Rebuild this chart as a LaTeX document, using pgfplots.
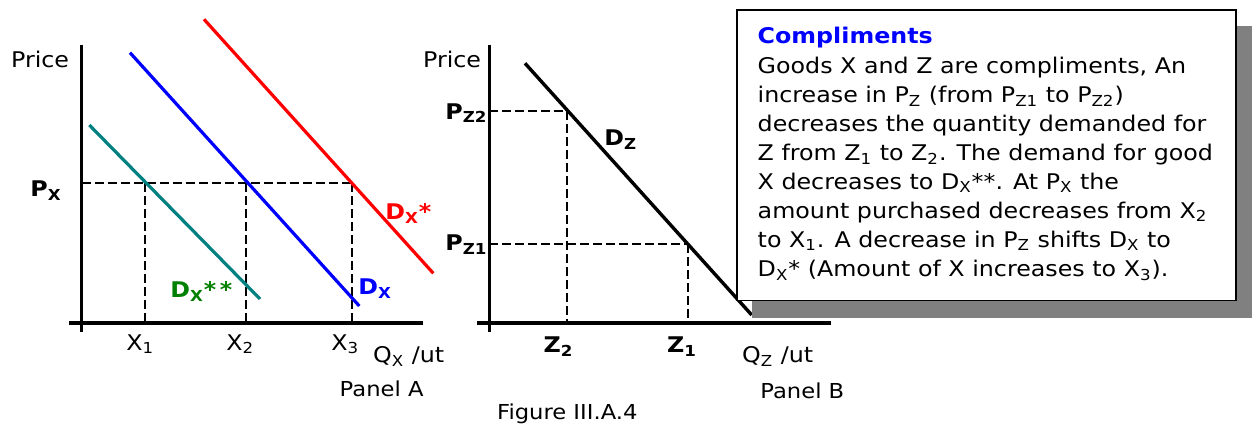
\documentclass[border=0pt]{standalone}
\usepackage{fontspec}
\setmainfont{DejaVu Sans}[FakeStretch=1.1]
\usepackage{pgfplots}
\pgfplotsset{compat=1.18}
\definecolor{dteal}{RGB}{0,128,128}
\definecolor{dgreen}{RGB}{0,128,0}
\definecolor{shadow}{RGB}{128,128,128}
\newcommand\tf{\fontsize{10.8}{13}\selectfont}
\newcommand\sub[1]{\textsubscript{#1}}

\begin{document}
\begin{tikzpicture}[every node/.style={inner sep=0pt, anchor=base west, font=\tf}]
\begin{axis}[
    x=0.5pt, y=0.5pt,
    xmin=0, xmax=1258, ymin=0, ymax=426,
    y dir=reverse,
    hide axis,
    scale only axis,
    clip=false,
    ax/.style={black, line width=1.8pt},
    dsh/.style={black, line width=1pt, dash pattern=on 4.5pt off 2pt},
    dem/.style={line width=1.6pt},
]
\path (axis cs:0,0) rectangle (axis cs:1258,426);

% ---- Panel A ----
\addplot[ax] coordinates {(81.5,45) (81.5,332)};
\addplot[ax] coordinates {(69,323.3) (423,323.3)};
\addplot[dsh] coordinates {(81.5,183.3) (351.5,183.3)};
\addplot[dsh] coordinates {(144.5,183.3) (144.5,322)};
\addplot[dsh] coordinates {(246,183.3) (246,322)};
\addplot[dsh] coordinates {(351.5,183.3) (351.5,322)};
\addplot[dem, dteal] coordinates {(89.3,125) (260,299)};
\addplot[dem, blue] coordinates {(130,52.7) (359.3,306)};
\addplot[dem, red] coordinates {(204,19.3) (433.3,273.3)};

\node at (axis cs:10.7,67.7) {Price};
\node at (axis cs:30,196.7) {\bfseries P\sub{X}};
\node at (axis cs:126,350.3) {X\sub{1}};
\node at (axis cs:226,350.3) {X\sub{2}};
\node at (axis cs:331,350.3) {X\sub{3}};
\node at (axis cs:372.7,362.7) {Q\sub{X} /ut};
\node[font=\fontsize{10.3}{12}\selectfont] at (axis cs:339.3,396.7) {Panel A};
\node[text=red] at (axis cs:385,220) {\bfseries D\sub{X}*};
\node[text=blue] at (axis cs:358,295) {\bfseries D\sub{X}};
\node[text=dgreen] at (axis cs:170,297.7) {\bfseries D\sub{X}*\,*};

% ---- Panel B ----
\addplot[ax] coordinates {(489.3,45) (489.3,332)};
\addplot[ax] coordinates {(477.3,323.3) (830.7,323.3)};
\addplot[dsh] coordinates {(489.3,111) (567,111)};
\addplot[dsh] coordinates {(567,111) (567,322)};
\addplot[dsh] coordinates {(489.3,244.3) (687.5,244.3)};
\addplot[dsh] coordinates {(687.5,244.3) (687.5,322)};
\addplot[black, line width=1.7pt] coordinates {(525,63.3) (751.7,315)};

\node at (axis cs:422.7,67.7) {Price};
\node at (axis cs:445,119.3) {\bfseries P\sub{Z2}};
\node at (axis cs:445,250.7) {\bfseries P\sub{Z1}};
\node at (axis cs:604,145.7) {\bfseries D\sub{Z}};
\node at (axis cs:543.3,352.7) {\bfseries Z\sub{2}};
\node at (axis cs:666.7,352.7) {\bfseries Z\sub{1}};
\node at (axis cs:741.7,362.7) {Q\sub{Z} /ut};
\node[font=\fontsize{10.3}{12}\selectfont] at (axis cs:760,398.3) {Panel B};
\node[font=\fontsize{10.3}{12}\selectfont] at (axis cs:496.7,419.3) {Figure III.A.4};

% ---- text box ----
\fill[shadow] (axis cs:752,26) rectangle (axis cs:1252,318);
\filldraw[fill=white, draw=black, line width=0.8pt] (axis cs:736.7,10) rectangle (axis cs:1236,300.7);
\node[text=blue] at (axis cs:757.3,44) {\bfseries Compliments};
\node at (axis cs:757.3,74) {Goods X and Z are compliments, An};
\node at (axis cs:757.3,102.7) {increase in P\sub{Z} (from P\sub{Z1} to P\sub{Z2})};
\node at (axis cs:757.3,131.7) {decreases the quantity demanded for};
\node at (axis cs:757.3,160.7) {Z from Z\sub{1} to Z\sub{2}. The demand for good};
\node at (axis cs:757.3,189.3) {X decreases to D\sub{X}**. At P\sub{X} the};
\node at (axis cs:757.3,218.3) {amount purchased decreases from X\sub{2}};
\node at (axis cs:757.3,247.3) {to X\sub{1}. A decrease in P\sub{Z} shifts D\sub{X} to};
\node at (axis cs:757.3,276.7) {D\sub{X}* (Amount of X increases to X\sub{3}).};
\end{axis}
\end{tikzpicture}
\end{document}
